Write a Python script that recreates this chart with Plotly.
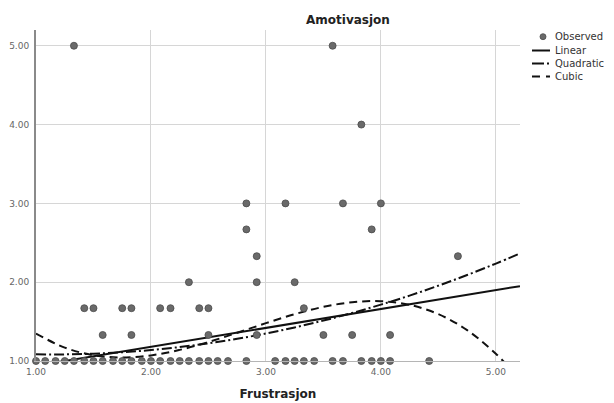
import plotly.graph_objects as go

# ---- Observed data (Frustrasjon, Amotivasjon) ----
obs_x = [1.00, 1.08, 1.17, 1.25, 1.33, 1.42, 1.50, 1.58, 1.67, 1.75, 1.83, 1.92,
         2.00, 2.08, 2.17, 2.25, 2.33, 2.42, 2.50, 2.58, 2.67, 2.83, 3.08, 3.17,
         3.25, 3.33, 3.42, 3.58, 3.67, 3.83, 3.92, 4.00, 4.08, 4.42,
         1.33, 3.58, 3.83, 2.83, 3.17, 3.67, 4.00, 2.83, 3.92, 2.92, 4.67,
         2.33, 2.92, 3.25,
         1.42, 1.50, 1.75, 1.83, 2.08, 2.17, 2.42, 2.50, 3.33,
         1.58, 1.83, 2.50, 2.92, 3.50, 3.75, 4.08]
obs_y = [1.00] * 34 + \
        [5.00, 5.00, 4.00, 3.00, 3.00, 3.00, 3.00, 2.67, 2.67, 2.33, 2.33,
         2.00, 2.00, 2.00,
         1.67, 1.67, 1.67, 1.67, 1.67, 1.67, 1.67, 1.67, 1.67,
         1.33, 1.33, 1.33, 1.33, 1.33, 1.33, 1.33]

# ---- Fitted curves, values ----
lin_x = [1.00, 5.21]
lin_y = [0.94, 1.95]

quad_x = [1.00, 1.25, 1.50, 1.75, 2.00, 2.25, 2.50, 2.75, 3.00, 3.25, 3.50,
          3.75, 4.00, 4.25, 4.50, 4.75, 5.00, 5.21]
quad_y = [1.085, 1.084, 1.093, 1.111, 1.139, 1.177, 1.225, 1.282, 1.349, 1.426,
          1.513, 1.609, 1.715, 1.830, 1.956, 2.091, 2.236, 2.365]

cub_x = [1.00, 1.25, 1.50, 1.75, 2.00, 2.25, 2.50, 2.75, 3.00, 3.25, 3.50,
         3.75, 4.00, 4.25, 4.50, 4.75, 5.00, 5.10]
cub_y = [1.348, 1.170, 1.073, 1.044, 1.071, 1.141, 1.241, 1.358, 1.480, 1.594,
         1.687, 1.746, 1.759, 1.713, 1.595, 1.392, 1.092, 0.942]

tick_vals = [1, 2, 3, 4, 5]
tick_text = ["1.00", "2.00", "3.00", "4.00", "5.00"]

legend_labels = ["Observed", "Linear", "Quadratic", "Cubic"]

LINE = "#111111"
MARK = "#6a6a6a"
QUAD_DASH = "10px,3px,2px,3px"
CUB_DASH = "8px,5px"

fig = go.Figure()
fig.add_trace(go.Scatter(x=lin_x, y=lin_y, mode="lines",
                         line=dict(color=LINE, width=2), showlegend=False))
fig.add_trace(go.Scatter(x=quad_x, y=quad_y, mode="lines", line_shape="spline",
                         line=dict(color=LINE, width=2, dash=QUAD_DASH), showlegend=False))
fig.add_trace(go.Scatter(x=cub_x, y=cub_y, mode="lines", line_shape="spline",
                         line=dict(color=LINE, width=2, dash=CUB_DASH), showlegend=False))
fig.add_trace(go.Scatter(x=obs_x, y=obs_y, mode="markers", cliponaxis=False,
                         marker=dict(size=7, color=MARK, line=dict(color="#4a4a4a", width=0.8)),
                         showlegend=False))

# ---- Custom legend (paper coordinates) ----
L, R, T, B = 36, 94, 30, 42
W, H = 614, 403
pw, ph = W - L - R, H - T - B
def px(x):
    return (x - L) / pw
def py(y):
    return (H - B - y) / ph

rows = [36.7, 50.5, 63.5, 76.5]
shapes = []
annotations = []
shapes.append(dict(type="circle", xref="paper", yref="paper",
                   x0=px(540), x1=px(546), y0=py(rows[0] + 3), y1=py(rows[0] - 3),
                   fillcolor=MARK, line=dict(color="#4a4a4a", width=0.8)))
for r, dash in zip(rows[1:], ["solid", "12px,3px,2px,3px", "8px,6px"]):
    shapes.append(dict(type="line", xref="paper", yref="paper",
                       x0=px(532), x1=px(550), y0=py(r), y1=py(r),
                       line=dict(color=LINE, width=2, dash=dash)))
for r, lab in zip(rows, legend_labels):
    annotations.append(dict(text=lab, xref="paper", yref="paper", x=px(553), y=py(r),
                            xanchor="left", yanchor="middle", showarrow=False,
                            font=dict(family="DejaVu Sans", size=10, color="#333333")))

fig.update_layout(
    width=W, height=H,
    margin=dict(l=L, r=R, t=T, b=B, autoexpand=False),
    paper_bgcolor="white", plot_bgcolor="white",
    title=dict(text="<b>Amotivasjon</b>", xref="container", x=348 / W, xanchor="center",
               yref="container", y=1 - 20 / H, yanchor="middle",
               font=dict(family="DejaVu Sans", size=12, color="#222222")),
    shapes=shapes, annotations=annotations,
    showlegend=False,
)
fig.update_xaxes(range=[1, 5.21], tickvals=tick_vals, ticktext=tick_text,
                 showgrid=True, gridcolor="#d6d6d6", gridwidth=1,
                 showline=True, linecolor="#b5b5b5", linewidth=1,
                 zeroline=False, ticks="", ticklabelstandoff=2,
                 tickfont=dict(family="DejaVu Sans", size=9, color="#666666"),
                 title=dict(text="<b>Frustrasjon</b>", standoff=13,
                            font=dict(family="DejaVu Sans", size=12, color="#222222")),
                 automargin=False)
fig.update_yaxes(range=[1, 5.2], tickvals=tick_vals, ticktext=tick_text,
                 showgrid=True, gridcolor="#d6d6d6", gridwidth=1,
                 showline=True, linecolor="#8a8a8a", linewidth=2,
                 zeroline=False, ticks="", ticklabelstandoff=3,
                 tickfont=dict(family="DejaVu Sans", size=9, color="#666666"),
                 automargin=False)

fig.write_html("out.html")
